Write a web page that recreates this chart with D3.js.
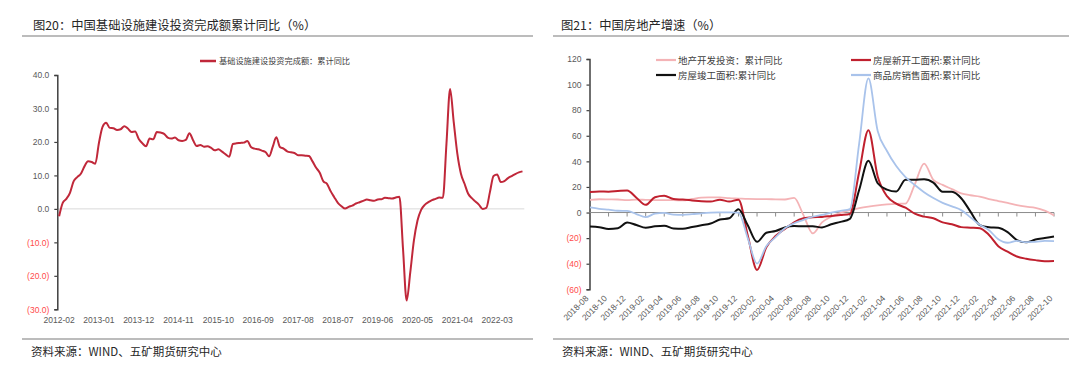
<!DOCTYPE html>
<html>
<head>
<meta charset="utf-8">
<script src="https://cdn.jsdelivr.net/npm/d3@7"></script>
<style>
  body { margin: 0; background: #fff; }
  svg text { font-family: "Liberation Sans", Arial, "Noto Sans CJK SC", sans-serif; }
  .cn { font-family: "Noto Sans CJK SC", sans-serif; }
</style>
</head>
<body>
<svg id="chart" width="1080" height="383"></svg>
<script>
// ---- DATA: left chart (infrastructure investment, cumulative yoy %) ----
var infraStart = [2012, 2];
var infraEnd = [2022, 10];
var infraValues = [
  -2.2, 1.8, 3.0, 4.8, 8.2, 9.5, 10.5, 12.7, 14.2, 14.0, 13.5,             // 2012
  19.7, 24.5, 25.7, 24.2, 24.1, 23.6, 23.8, 24.7, 24.0, 23.0, 23.1, 20.9,  // 2013
  19.6, 18.7, 21.0, 20.8, 23.0, 22.8, 22.4, 21.3, 21.0, 21.3, 20.5, 20.3,  // 2014
  20.6, 22.6, 20.5, 18.8, 19.1, 18.6, 18.7, 18.2, 17.5, 17.8, 17.1, 16.3,  // 2015
  15.6, 19.4, 19.6, 19.7, 19.8, 20.3, 18.5, 18.0, 17.8, 17.4, 17.0, 15.7,  // 2016
  18.5, 21.4, 18.5, 18.0, 17.2, 16.9, 16.7, 16.0, 16.0, 15.9, 15.8, 14.2,  // 2017
  12.3, 10.8, 8.2, 7.5, 5.3, 3.5, 1.8, 0.8, 0.1, 0.6, 1.0, 1.6,            // 2018
  2.0, 2.4, 2.8, 2.6, 2.4, 2.8, 2.9, 3.3, 3.2, 3.1, 3.4, 3.6,              // 2019
  -12.0, -27.4, -19.0, -9.5, -3.5, -0.3, 1.2, 2.0, 2.6, 3.0, 3.4, 3.3,     // 2020
  19.5, 35.8, 26.0, 16.5, 10.5, 7.5, 4.5, 3.2, 2.2, 1.2, 0.0, 0.3,         // 2021
  5.0, 9.8, 10.3, 8.0, 8.3, 9.2, 9.8, 10.4, 10.9, 11.2                     // 2022
];
var infraXTicks = ['2012-02', '2013-01', '2013-12', '2014-11', '2015-10', '2016-09',
                   '2017-08', '2018-07', '2019-06', '2020-05', '2021-04', '2022-03'];
var infraYTicks = [40, 30, 20, 10, 0, -10, -20, -30];
var infraName = '基础设施建设投资完成额：累计同比';

// ---- DATA: right chart (real estate, cumulative yoy %) ----
var estStart = [2018, 8];
var estEnd = [2022, 10];
var estInvest = [
  9.9, 10.4, 10.3, 10.2, 9.7, 10.1, 9.9, 9.7, 9.7, 9.7, 9.5, 10.6, 11.6, 11.8, 11.9, 11.2, 10.9,
  10.6, 10.5, 10.5, 10.3, 10.2, 11.5, -2.0, -16.3, -7.7, -3.3, -0.3, 1.9, 3.4, 4.6, 5.6, 6.3, 6.8,
  7.0, 22.0, 38.3, 25.6, 21.6, 18.3, 15.0, 13.5, 12.5, 10.5, 9.0, 7.5, 5.8, 4.6, 3.7, 1.5, -2.2
];
var estNewStart = [
  16.0, 16.4, 16.3, 16.8, 17.2, 11.6, 6.0, 11.9, 13.1, 10.5, 10.1, 9.5, 8.9, 8.6, 10.0, 8.6, 10.0,
  -18.0, -44.9, -27.2, -18.4, -12.8, -7.6, -4.5, -3.6, -3.4, -2.7, -2.0, -1.2, 31.5, 64.3, 28.2, 12.8,
  6.9, 3.8, -0.9, -3.2, -4.5, -7.7, -9.1, -11.4, -11.8, -12.2, -17.5, -26.3, -30.6, -34.4, -36.1,
  -37.2, -38.0, -37.8
];
var estCompleted = [
  -11.0, -11.5, -12.9, -12.3, -7.8, -9.8, -11.9, -10.8, -10.3, -12.4, -12.7, -11.3, -10.0, -8.6,
  -5.5, -4.5, 2.6, -10.0, -22.9, -15.8, -14.5, -11.6, -10.5, -10.8, -10.8, -11.6, -9.2, -7.3, -4.9,
  17.5, 40.4, 22.9, 17.9, 16.4, 25.7, 25.7, 26.0, 23.4, 16.3, 16.2, 11.2, 0.7, -9.8, -11.5, -11.9,
  -15.3, -21.5, -23.3, -21.1, -19.9, -18.7
];
var estSales = [
  4.0, 2.9, 2.2, 1.4, 1.3, -1.2, -3.6, -0.9, -0.3, -1.6, -1.8, -1.3, -0.6, -0.1, 0.1, 0.2, -0.1,
  -20.0, -39.9, -26.3, -19.3, -12.3, -8.4, -5.8, -3.3, -1.8, 0.0, 1.3, 2.6, 53.7, 104.9, 63.8, 48.1,
  36.3, 27.7, 21.5, 15.9, 11.3, 7.6, 4.8, 1.9, -3.8, -9.6, -13.8, -20.9, -23.6, -22.2, -23.1, -23.0,
  -22.2, -22.3
];
var estNames = ['地产开发投资：累计同比', '房屋新开工面积:累计同比', '房屋竣工面积:累计同比', '商品房销售面积:累计同比'];
var estYTicks = [120, 100, 80, 60, 40, 20, 0, -20, -40, -60];

// builds "YYYY-MM" labels between two months
var monthList = function(start, end) {
  var out = [];
  var y = start[0], m = start[1];
  while (y < end[0] || (y === end[0] && m <= end[1])) {
    out.push(y + '-' + (m < 10 ? '0' + m : m));
    m++;
    if (m > 12) { m = 1; y++; }
  }
  return out;
};

var fmtNeg = function(v, digits) {
  var s = Math.abs(v).toFixed(digits);
  return v < 0 ? '(' + s + ')' : s;
};

var svg = d3.select('#chart');
var axisColor = '#404040';
var labelColor = '#595959';
var negColor = '#ff4b4b';

// ---- frame: titles, rules, sources ----
svg.append('text').attr('class', 'cn').attr('x', 33).attr('y', 30)
  .attr('font-size', 12.3).attr('fill', '#262626')
  .text('图20：中国基础设施建设投资完成额累计同比（%）');
svg.append('text').attr('class', 'cn').attr('x', 561).attr('y', 30)
  .attr('font-size', 12.3).attr('fill', '#262626')
  .text('图21：中国房地产增速（%）');

[[22, 533], [553, 1069]].forEach(function(r) {
  svg.append('line').attr('x1', r[0]).attr('x2', r[1]).attr('y1', 36).attr('y2', 36)
    .attr('stroke', '#a6a6a6').attr('stroke-width', 1.5);
  svg.append('line').attr('x1', r[0]).attr('x2', r[1]).attr('y1', 339).attr('y2', 339)
    .attr('stroke', '#a6a6a6').attr('stroke-width', 1.5);
  svg.append('text').attr('class', 'cn').attr('x', r[0] + 9).attr('y', 356)
    .attr('font-size', 11.5).attr('fill', '#262626')
    .text('资料来源：WIND、五矿期货研究中心');
});

// ================= LEFT CHART =================
var infraMonths = monthList(infraStart, infraEnd);
var lx = d3.scalePoint().domain(infraMonths).range([57.3, 524.3]).padding(0.5);
var ly = d3.scaleLinear().domain([-30, 40]).range([309.3, 75]);

// zero line
svg.append('line').attr('x1', 57.3).attr('x2', 524.3).attr('y1', ly(0)).attr('y2', ly(0))
  .attr('stroke', '#d9d9d9').attr('stroke-width', 1);

var lAxis = svg.append('g').attr('transform', 'translate(57.3,0)')
  .call(d3.axisLeft(ly).tickValues(infraYTicks).tickSize(3).tickFormat(function(d) { return fmtNeg(d, 1); }));
lAxis.select('.domain').attr('stroke', axisColor).attr('stroke-width', 1.5);
lAxis.selectAll('.tick line').attr('stroke', axisColor).attr('stroke-width', 1.2);
lAxis.selectAll('.tick text').attr('font-size', 8.5).attr('x', -8)
  .attr('fill', function(d) { return d < 0 ? negColor : labelColor; });

svg.selectAll('.lxlabel').data(infraXTicks).enter().append('text')
  .attr('class', 'lxlabel')
  .attr('x', function(d) { return lx(d); })
  .attr('y', 323)
  .attr('text-anchor', 'middle')
  .attr('font-size', 8.5)
  .attr('fill', labelColor)
  .text(function(d) { return d; });

var lLine = d3.line()
  .x(function(d, i) { return lx(infraMonths[i]); })
  .y(function(d) { return ly(d); })
  .curve(d3.curveMonotoneX);

svg.append('path').datum(infraValues)
  .attr('d', lLine)
  .attr('fill', 'none')
  .attr('stroke', '#c0283a')
  .attr('stroke-width', 2);

// legend
svg.append('line').attr('x1', 200).attr('x2', 216).attr('y1', 61).attr('y2', 61)
  .attr('stroke', '#c0283a').attr('stroke-width', 2.5);
svg.append('text').attr('class', 'cn').attr('x', 219).attr('y', 64)
  .attr('font-size', 8.2).attr('fill', '#404040').text(infraName);

// ================= RIGHT CHART =================
var estMonths = monthList(estStart, estEnd);
var rx = d3.scalePoint().domain(estMonths).range([590, 1054]);
var ry = d3.scaleLinear().domain([-60, 120]).range([289.3, 59]);

var rAxis = svg.append('g').attr('transform', 'translate(589.5,0)')
  .call(d3.axisLeft(ry).tickValues(estYTicks).tickSize(3).tickFormat(function(d) { return fmtNeg(d, 0); }));
rAxis.select('.domain').attr('stroke', axisColor).attr('stroke-width', 1.5);
rAxis.selectAll('.tick line').attr('stroke', axisColor).attr('stroke-width', 1.2);
rAxis.selectAll('.tick text').attr('font-size', 8.5).attr('x', -8)
  .attr('fill', function(d) { return d < 0 ? negColor : labelColor; });

// zero axis with ticks
svg.append('line').attr('x1', 589.5).attr('x2', 1054).attr('y1', ry(0)).attr('y2', ry(0))
  .attr('stroke', '#8c8c8c').attr('stroke-width', 1);
var estLabelMonths = estMonths.filter(function(d, i) { return i % 2 === 0; });
svg.selectAll('.rxtick').data(estLabelMonths.slice(1)).enter().append('line')
  .attr('class', 'rxtick')
  .attr('x1', function(d) { return rx(d); })
  .attr('x2', function(d) { return rx(d); })
  .attr('y1', ry(0)).attr('y2', ry(0) + 4)
  .attr('stroke', '#8c8c8c');

svg.selectAll('.rxlabel').data(estLabelMonths).enter().append('text')
  .attr('class', 'rxlabel')
  .attr('transform', function(d) { return 'translate(' + (rx(d) - 1) + ',299) rotate(-45)'; })
  .attr('text-anchor', 'end')
  .attr('font-size', 8.5)
  .attr('fill', labelColor)
  .text(function(d) { return d; });

var rLine = d3.line()
  .x(function(d, i) { return rx(estMonths[i]); })
  .y(function(d) { return ry(d); })
  .curve(d3.curveMonotoneX);

var estSeries = [
  { name: estNames[0], values: estInvest, color: '#f4b3b6', width: 1.8 },
  { name: estNames[1], values: estNewStart, color: '#c0202e', width: 2 },
  { name: estNames[2], values: estCompleted, color: '#111111', width: 2 },
  { name: estNames[3], values: estSales, color: '#a9c3eb', width: 1.8 }
];

svg.selectAll('.rseries').data(estSeries).enter().append('path')
  .attr('class', 'rseries')
  .attr('d', function(s) { return rLine(s.values); })
  .attr('fill', 'none')
  .attr('stroke', function(s) { return s.color; })
  .attr('stroke-width', function(s) { return s.width; });

// legend (2 x 2)
var legPos = [[656, 60], [851, 60], [656, 75], [851, 75]];
estSeries.forEach(function(s, i) {
  var p = legPos[i];
  svg.append('line').attr('x1', p[0]).attr('x2', p[0] + 20).attr('y1', p[1]).attr('y2', p[1])
    .attr('stroke', s.color).attr('stroke-width', 2.2);
  svg.append('text').attr('class', 'cn').attr('x', p[0] + 22).attr('y', p[1] + 3.5)
    .attr('font-size', 9.5).attr('fill', '#404040').text(s.name);
});
</script>
</body>
</html>
